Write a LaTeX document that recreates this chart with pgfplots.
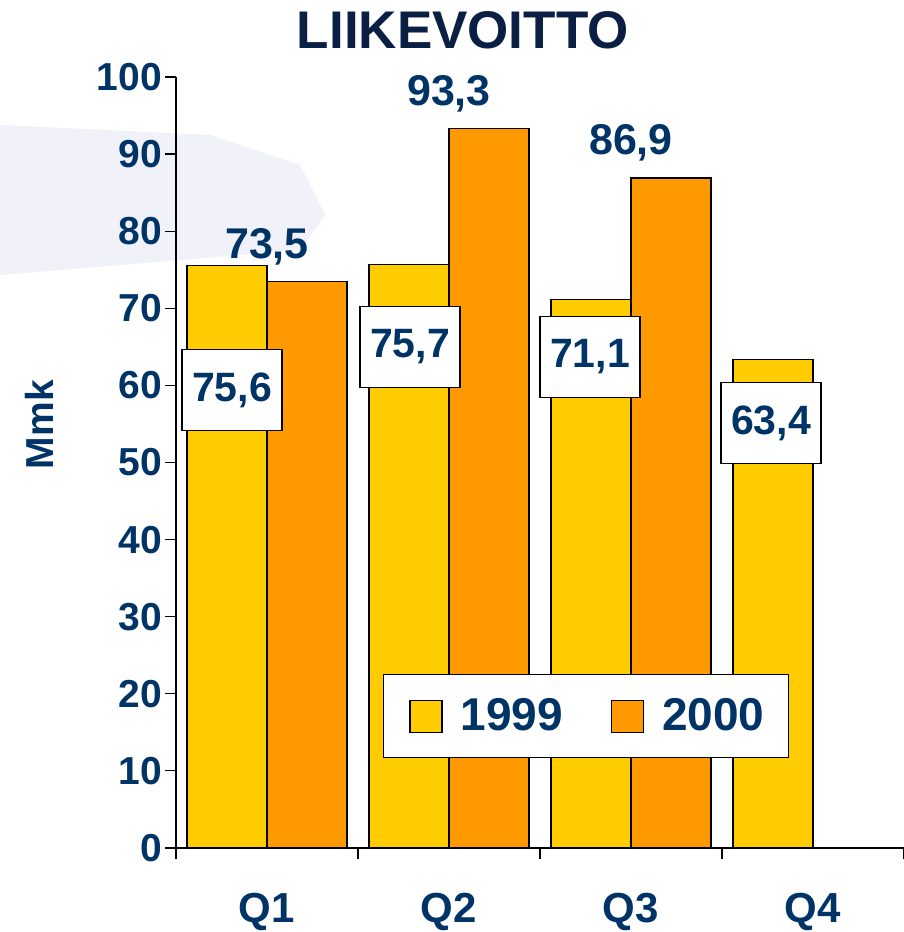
\documentclass[border=0pt]{standalone}
\usepackage{fontspec}
\setmainfont{Liberation Sans}
\usepackage{pgfplots}
\pgfplotsset{compat=1.18}
\definecolor{bar99}{HTML}{FFCC00}
\definecolor{bar00}{HTML}{FF9900}
\definecolor{txt}{HTML}{003366}
\definecolor{ttl}{HTML}{0B1F44}
\definecolor{bgdeco}{HTML}{F1F1F9}

\pgfplotsset{
  sqlegend/.style={legend image code/.code={
    \path (-3pt,0pt);
    \draw[##1, draw=black, line width=0.6pt] (0pt,-8pt) rectangle (16pt,8pt);
    \path (23pt,0pt);}},
}

\begin{document}
\begin{tikzpicture}
\path[use as bounding box, fill=white] (0,0) rectangle (452pt,466pt);
% faint background decoration
\fill[bgdeco] (0pt,403.5pt) -- (105pt,398.5pt) -- (150pt,383.5pt)
  -- (162.5pt,358.5pt) -- (150pt,341pt) -- (0pt,328.5pt) -- cycle;
\begin{axis}[
  at={(88pt,42pt)}, anchor=south west,
  scale only axis, width=364pt, height=385.5pt,
  xmin=0, xmax=4, ymin=0, ymax=100,
  axis x line=bottom, axis y line=left,
  axis line style={-, line width=0.7pt},
  xtick={0,1,2,3,4}, x tick label as interval,
  xticklabels={Q1,Q2,Q3,Q4},
  ytick={0,10,...,100},
  tick align=outside, major tick length=5.5pt,
  tick style={black, line width=0.6pt},
  ticklabel style={font=\fontsize{19.5}{20}\selectfont\bfseries, text=txt},
  yticklabel style={xshift=2pt},
  xticklabel style={font=\fontsize{21}{22}\selectfont\bfseries, yshift=-13.5pt},
  /pgf/number format/assume math mode=true,
  ylabel={Mmk},
  ylabel style={at={(axis description cs:-0.187,0.549)}, anchor=center,
    font=\fontsize{19.5}{20}\selectfont\bfseries, text=txt},
  title={LIIKEVOITTO},
  every axis title shift=0pt,
  title style={at={(axis description cs:0.394,1.06)}, anchor=center,
    font=\fontsize{26.5}{27}\selectfont\bfseries, text=ttl},
  legend columns=2,
  legend style={at={(0.563,0.171)}, anchor=center, draw=black,
    line width=0.6pt, fill=white, text=txt,
    font=\fontsize{23}{23}\selectfont\bfseries,
    inner xsep=10pt, inner ysep=10pt,
    /tikz/every even column/.append style={column sep=19pt}},
]

% 1999
\addplot[ybar, bar width=40pt, bar shift=-20pt, fill=bar99, draw=black,
  line width=0.6pt, sqlegend] coordinates {
  (0.5,75.6) (1.5,75.7) (2.5,71.1) (3.5,63.4)
};
\addlegendentry{1999}

% 2000
\addplot[ybar, bar width=40pt, bar shift=20pt, fill=bar00, draw=black,
  line width=0.6pt, sqlegend,
  nodes near coords,
  nodes near coords style={anchor=base, yshift=11.5pt, text=txt,
    font=\fontsize{21.5}{22}\selectfont\bfseries,
    /pgf/number format/.cd, fixed, fixed zerofill, precision=1, use comma,
    assume math mode=true}] coordinates {
  (0.5,73.5) (1.5,93.3) (2.5,86.9)
};
\addlegendentry{2000}

% 1999 values in white boxes
\tikzset{valbox/.style={draw=black, fill=white, line width=0.6pt,
  minimum width=50pt, minimum height=40.5pt, inner sep=0pt, text=txt,
  font=\fontsize{20.5}{21}\selectfont\bfseries}}
\node[valbox] at (axis cs:0.308,59.4) {75,6};
\node[valbox] at (axis cs:1.286,65.0) {75,7};
\node[valbox] at (axis cs:2.275,63.7) {71,1};
\node[valbox] at (axis cs:3.269,55.1) {63,4};

\end{axis}
\end{tikzpicture}
\end{document}
